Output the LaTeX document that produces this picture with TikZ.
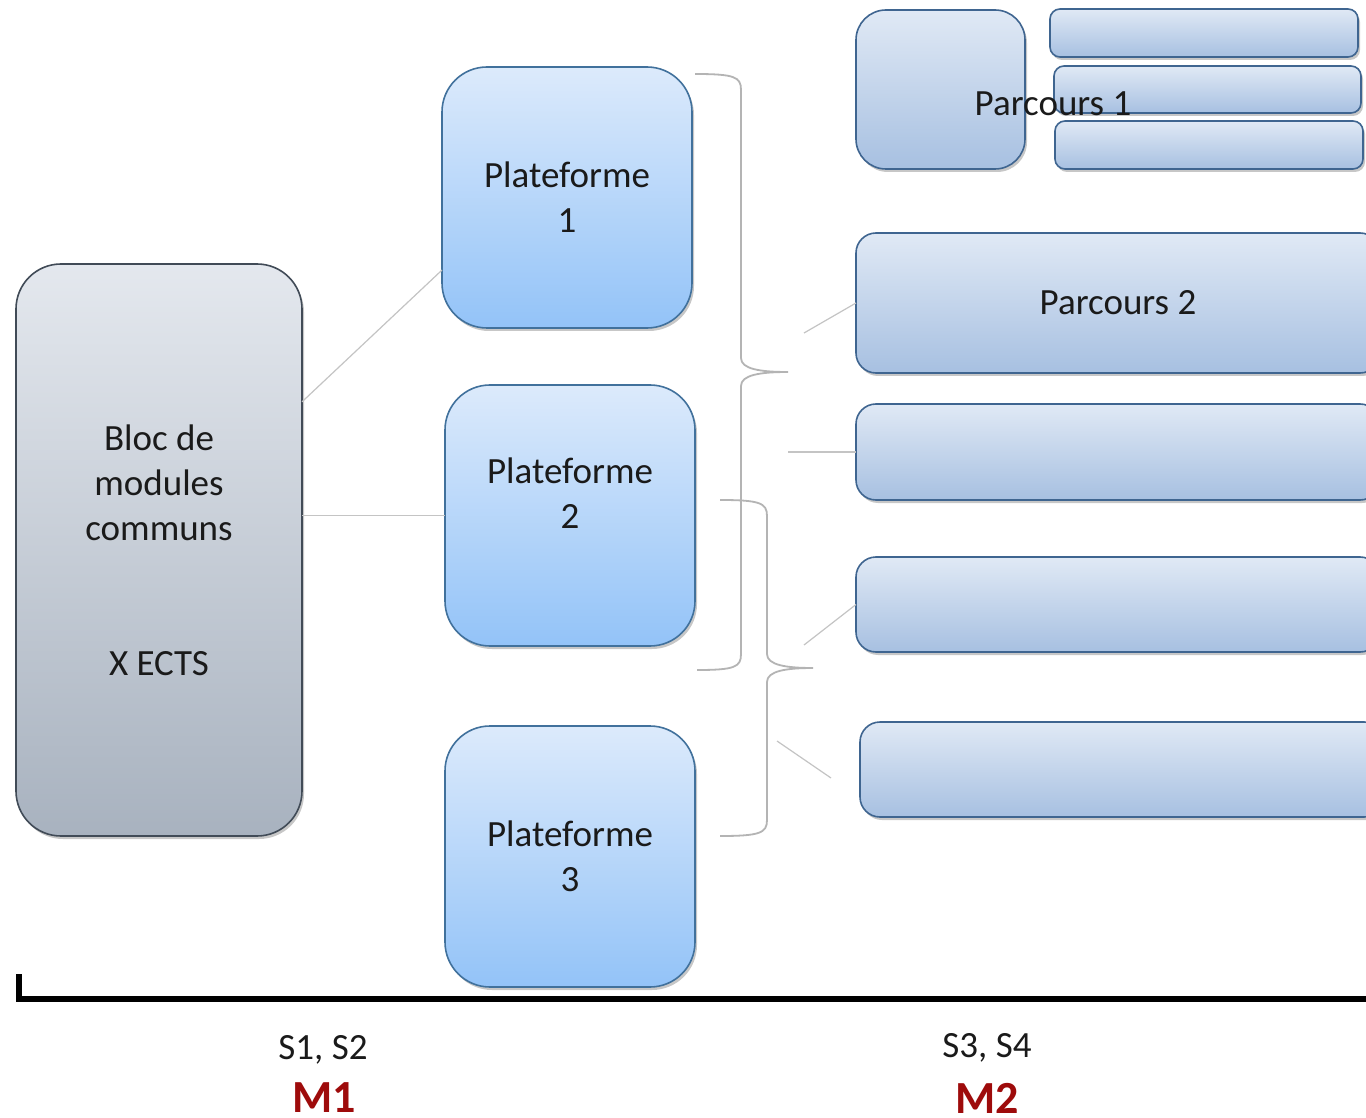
\documentclass[tikz,border=0pt]{standalone}
\usepackage{fontspec}
\setmainfont{Carlito}
\usetikzlibrary{shadows,calc}

\definecolor{platTop}{HTML}{DCEAFB}
\definecolor{platBot}{HTML}{93C3F8}
\definecolor{platEdge}{HTML}{41719C}
\definecolor{blocTop}{HTML}{E4E8EE}
\definecolor{blocBot}{HTML}{A8B2BF}
\definecolor{blocEdge}{HTML}{414B57}
\definecolor{parTop}{HTML}{E0E9F5}
\definecolor{parBot}{HTML}{A7C0E1}
\definecolor{parEdge}{HTML}{3F6590}
\definecolor{linkGrey}{HTML}{C4C4C4}
\definecolor{braceGrey}{HTML}{B4B4B4}
\definecolor{levelRed}{HTML}{9E0B0B}
\definecolor{textDark}{HTML}{1A1A1A}

\begin{document}
\begin{tikzpicture}[x=0.5pt,y=-0.5pt,
  sized/.style 2 args={minimum width=#1*0.5pt, minimum height=#2*0.5pt},
  boxbase/.style={draw, line width=0.8pt, inner sep=0pt, outer sep=0pt,
    align=center, text=textDark,
    font=\fontsize{18.5}{22.5}\selectfont,
    drop shadow={shadow xshift=1pt, shadow yshift=-1.5pt, opacity=0.22, fill=black}},
  platbox/.style={boxbase, rounded corners=22.5pt, draw=platEdge,
    top color=platTop, bottom color=platBot},
  blocbox/.style={boxbase, rounded corners=22.5pt, draw=blocEdge,
    top color=blocTop, bottom color=blocBot},
  parbox/.style={boxbase, rounded corners=10pt, draw=parEdge,
    top color=parTop, bottom color=parBot},
  link/.style={draw=linkGrey, line width=0.6pt},
  bracepath/.style={draw=braceGrey, line width=0.9pt},
  axisline/.style={line width=3.3pt, line join=miter},
  term/.style={font=\fontsize{18.5}{22.5}\selectfont, text=textDark, inner sep=0pt},
  level/.style={font=\fontsize{23}{27}\selectfont\bfseries, text=levelRed, inner sep=0pt}]

\clip (0,0) rectangle (1366,1118);
\fill[white] (0,0) rectangle (1366,1118);

% common block and the three platforms
\node[blocbox, sized={286}{572}] (bloc) at (159,550)
  {Bloc de\\modules\\communs\\ \\ \\X ECTS};
\node[platbox, sized={250}{261}] (p1) at (567,197.5) {Plateforme\\1};
\node[platbox, sized={250}{261}] (p2) at (570,515.5) {Plateforme\\2\\ };
\node[platbox, sized={250}{261}] (p3) at (570,856.5) {Plateforme\\3};

% tracks
\node[parbox, rounded corners=15pt, sized={169}{159}] (par1) at (940.5,89.5) {};
\node[parbox, rounded corners=5pt, sized={308}{48}] (par1a) at (1204,33) {};
\node[parbox, rounded corners=5pt, sized={307}{47}] (par1b) at (1207.5,89.5) {};
\node[parbox, rounded corners=5pt, sized={308}{48}] (par1c) at (1209,145) {};
\node[term] (par1t) at (1053,104) {Parcours 1};

\node[parbox, sized={524}{140}] (par2) at (1118,303) {Parcours 2};
\node[parbox, sized={524}{96}] (par3) at (1118,452) {};
\node[parbox, sized={524}{95}] (par4) at (1118,604.5) {};
\node[parbox, sized={524}{95}] (par5) at (1122,769.5) {};

% links from the common block to the platforms
\draw[link] ($(bloc.north east)!0.241!(bloc.south east)$)
  -- ($(p1.north west)!0.778!(p1.south west)$);
\draw[link] (bloc.east |- p2.west) -- (p2.west);

% braces grouping the platforms
\coordinate (b1top) at (695,74);
\coordinate (b1tip) at (788,372);
\coordinate (b1bot) at (697,670);
\draw[bracepath] (b1top) .. controls (735,74) and (741,77) .. (741,90)
  -- (741,358) .. controls (741,369) and (760,372) .. (b1tip)
  .. controls (760,372) and (741,375) .. (741,386)
  -- (741,654) .. controls (741,667) and (735,670) .. (b1bot);
\coordinate (b2top) at (720,500);
\coordinate (b2tip) at (813,668);
\coordinate (b2bot) at (720,836);
\draw[bracepath] (b2top) .. controls (760,500) and (767,503) .. (767,516)
  -- (767,654) .. controls (767,665) and (786,668) .. (b2tip)
  .. controls (786,668) and (767,671) .. (767,682)
  -- (767,820) .. controls (767,833) and (760,836) .. (b2bot);

% short links towards the tracks
\coordinate (l2) at (804,333);
\coordinate (l3) at (788,452);
\coordinate (l4) at (804,645);
\coordinate (l5a) at (777,741);
\coordinate (l5b) at (831,778);
\draw[link] (l2) -- (par2.west);
\draw[link] (l3) -- (par3.west);
\draw[link] (l4) -- (par4.west);
\draw[link] (l5a) -- (l5b);

% time axis
\coordinate (axo) at (19,999);
\draw[axisline] (19,974) -- (axo) -- (1380,999);

\node[term] (s12) at (323,1050) {S1, S2};
\node[term] (s34) at (987,1048) {S3, S4};
\node[level] (m1) at (324,1098) {M1};
\node[level] (m2) at (987,1098) {M2};
\end{tikzpicture}
\end{document}
